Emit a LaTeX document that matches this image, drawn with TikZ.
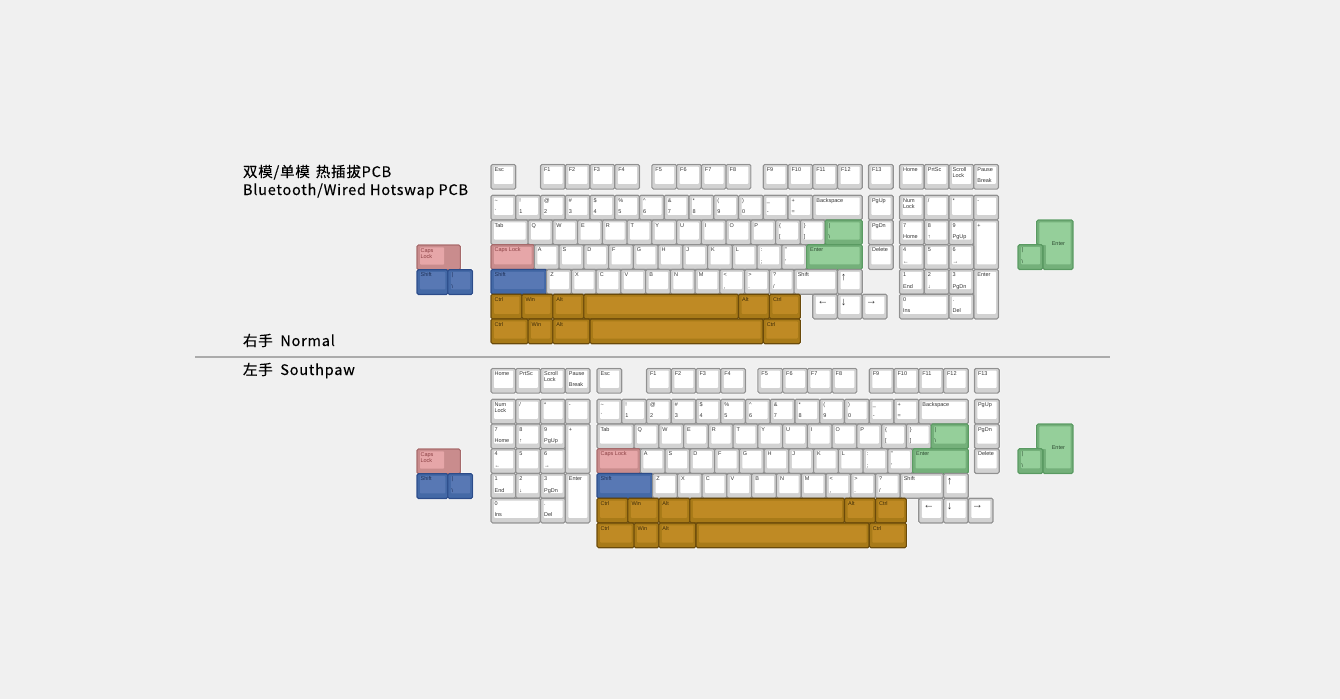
\documentclass[tikz,border=0pt]{standalone}
\usepackage{fontspec}
\newfontfamily\keyfont{Liberation Sans}
\newfontfamily\titlefont[LetterSpace=5.4,FakeBold=0.25]{Noto Sans CJK SC}
\definecolor{pagebg}{HTML}{F0F0F0}
\definecolor{haloc}{HTML}{FAFAFA}
\definecolor{outW}{HTML}{919191}\definecolor{sideW}{HTML}{D2D2D2}\definecolor{faceW}{HTML}{FFFFFF}\definecolor{textW}{HTML}{333333}
\definecolor{outG}{HTML}{6A4A0A}\definecolor{sideG}{HTML}{A87A18}\definecolor{faceG}{HTML}{BF8A24}\definecolor{textG}{HTML}{3A2A08}
\definecolor{outB}{HTML}{2C4C8A}\definecolor{sideB}{HTML}{4469A6}\definecolor{faceB}{HTML}{5878B4}\definecolor{textB}{HTML}{1D2F55}
\definecolor{outP}{HTML}{A66A6B}\definecolor{sideP}{HTML}{C98C8D}\definecolor{faceP}{HTML}{E6A6A8}\definecolor{textP}{HTML}{8A3F42}
\definecolor{outN}{HTML}{5A9A62}\definecolor{sideN}{HTML}{74B07A}\definecolor{faceN}{HTML}{95CF9A}\definecolor{textN}{HTML}{2C4A30}
\pgfdeclarelayer{backdrop}\pgfdeclarelayer{halo}\pgfsetlayers{backdrop,halo,main}
\newcounter{keyc}
\newdimen\uu \uu=24.75pt
\newdimen\kx \newdimen\ky \newdimen\kw \newdimen\kh
\newdimen\xa \newdimen\xb \newdimen\ya \newdimen\yb
\newdimen\fa \newdimen\fb \newdimen\ga \newdimen\gb
\newdimen\ta
\tikzset{
  legend/.style={anchor=base west,inner sep=0pt,outer sep=0pt,font=\keyfont\fontsize{5.5}{6}\selectfont},
  arrowlegend/.style={anchor=center,inner sep=0pt,outer sep=0pt,font=\keyfont\fontsize{11}{11}\selectfont,text=textW},
  titletext/.style={anchor=base west,inner sep=0pt,outer sep=0pt,font=\titlefont\fontsize{14.5}{16}\selectfont,text=black},
  keyrim/.style={line width=1.1pt,rounded corners=1.5pt},
  keyface/.style={rounded corners=0.8pt},
}
% #1 base x px, #2 offset in units, #3 y px
\newcommand\At[3]{\kx=#1pt \advance\kx #2\uu \ky=#3pt\relax}
\newcommand\Skip[1]{\advance\kx #1\uu\relax}
\newcommand\KeyBody[3]{% pal, w, h (in units)
  \stepcounter{keyc}%
  \kw=#2\uu \kh=#3\uu
  \xa=\kx \xb=\kx \advance\xb\kw
  \ya=\ky \yb=\ky \advance\yb\kh
  \fa=\xa \advance\fa 3pt \fb=\xb \advance\fb -2.6pt
  \ga=\ya \advance\ga 2.3pt \gb=\yb \advance\gb -5.2pt
  \begin{pgfonlayer}{halo}
  \draw[haloc,line width=2.4pt,rounded corners=2pt] (\xa,-\ya) rectangle (\xb,-\yb);
  \end{pgfonlayer}
  \draw[keyrim,draw=out#1,fill=side#1] (\xa,-\ya) rectangle (\xb,-\yb);
  \fill[keyface,fill=face#1] (\fa,-\ga) rectangle (\fb,-\gb);
}
% #1 pal #2 w #3 h #4 top line #5 second top line #6 bottom legend
\newcommand\KK[6]{%
  \KeyBody{#1}{#2}{#3}%
  \ta=\ky \advance\ta 7.2pt \xa=\kx \advance\xa 3.6pt
  \node[legend,text=text#1] (k\arabic{keyc}a) at (\xa,-\ta) {#4};
  \if\relax\detokenize{#5}\relax\else
    \advance\ta 5.8pt
    \node[legend,text=text#1] (k\arabic{keyc}b) at (\xa,-\ta) {#5};
  \fi
  \if\relax\detokenize{#6}\relax\else
    \ta=\ky \advance\ta 18.6pt
    \node[legend,text=text#1] (k\arabic{keyc}c) at (\xa,-\ta) {#6};
  \fi
  \advance\kx #2\uu\relax
}
\newcommand\K[3]{\KK{W}{#1}{1}{#2}{}{#3}}
\newcommand\Kt[3]{\KK{W}{#1}{1}{#2}{#3}{}}
% arrow key: glyph, dx, dy
\newcommand\KA[3]{%
  \KeyBody{W}{1}{1}%
  \xa=\kx \advance\xa #2pt \ta=\ky \advance\ta #3pt
  \node[arrowlegend] (k\arabic{keyc}a) at (\xa,-\ta) {#1};
  \advance\kx \uu\relax
}
% function row + main block: #1 main x, #2 y of function row, #3 y of number row
\newcommand\MainBlock[3]{%
  \At{#1}{0}{#2}\K{1}{Esc}{}\Skip{1}%
  \K{1}{F1}{}\K{1}{F2}{}\K{1}{F3}{}\K{1}{F4}{}\Skip{0.5}%
  \K{1}{F5}{}\K{1}{F6}{}\K{1}{F7}{}\K{1}{F8}{}\Skip{0.5}%
  \K{1}{F9}{}\K{1}{F10}{}\K{1}{F11}{}\K{1}{F12}{}\Skip{0.25}%
  \K{1}{F13}{}%
  \At{#1}{0}{#3}%
  \K{1}{\textasciitilde}{`}\K{1}{!}{1}\K{1}{@}{2}\K{1}{\#}{3}\K{1}{\$}{4}\K{1}{\%}{5}\K{1}{\textasciicircum}{6}\K{1}{\&}{7}\K{1}{*}{8}\K{1}{(}{9}\K{1}{)}{0}\K{1}{\_}{-}\K{1}{+}{=}\K{2}{Backspace}{}\Skip{0.25}\K{1}{PgUp}{}%
  \ky=#3pt \advance\ky 1\uu \kx=#1pt
  \K{1.5}{Tab}{}\K{1}{Q}{}\K{1}{W}{}\K{1}{E}{}\K{1}{R}{}\K{1}{T}{}\K{1}{Y}{}\K{1}{U}{}\K{1}{I}{}\K{1}{O}{}\K{1}{P}{}\K{1}{\{}{[}\K{1}{\}}{]}\KK{N}{1.5}{1}{|}{}{\textbackslash}\Skip{0.25}\K{1}{PgDn}{}%
  \ky=#3pt \advance\ky 2\uu \kx=#1pt
  \KK{P}{1.75}{1}{Caps Lock}{}{}\K{1}{A}{}\K{1}{S}{}\K{1}{D}{}\K{1}{F}{}\K{1}{G}{}\K{1}{H}{}\K{1}{J}{}\K{1}{K}{}\K{1}{L}{}\K{1}{:}{;}\K{1}{"}{'}\KK{N}{2.25}{1}{Enter}{}{}\Skip{0.25}\K{1}{Delete}{}%
  \ky=#3pt \advance\ky 3\uu \kx=#1pt
  \KK{B}{2.25}{1}{Shift}{}{}\K{1}{Z}{}\K{1}{X}{}\K{1}{C}{}\K{1}{V}{}\K{1}{B}{}\K{1}{N}{}\K{1}{M}{}\K{1}{<}{,}\K{1}{>}{.}\K{1}{?}{/}\K{1.75}{Shift}{}\KA{↑}{6}{8.5}%
  \ky=#3pt \advance\ky 4\uu \kx=#1pt
  \KK{G}{1.25}{1}{Ctrl}{}{}\KK{G}{1.25}{1}{Win}{}{}\KK{G}{1.25}{1}{Alt}{}{}\KK{G}{6.25}{1}{}{}{}\KK{G}{1.25}{1}{Alt}{}{}\KK{G}{1.25}{1}{Ctrl}{}{}\Skip{0.5}%
  \KA{←}{10}{8.5}\KA{↓}{6}{8.5}\KA{→}{9}{8.5}%
  \ky=#3pt \advance\ky 5\uu \kx=#1pt
  \KK{G}{1.5}{1}{Ctrl}{}{}\KK{G}{1}{1}{Win}{}{}\KK{G}{1.5}{1}{Alt}{}{}\KK{G}{7}{1}{}{}{}\KK{G}{1.5}{1}{Ctrl}{}{}%
}
% nav row + numpad: #1 x, #2 y function row, #3 y number row
\newcommand\NumBlock[3]{%
  \At{#1}{0}{#2}\K{1}{Home}{}\K{1}{PrtSc}{}\Kt{1}{Scroll}{Lock}\K{1}{Pause}{Break}%
  \At{#1}{0}{#3}\Kt{1}{Num}{Lock}\K{1}{/}{}\K{1}{*}{}\K{1}{-}{}%
  \ky=#3pt \advance\ky 1\uu \kx=#1pt
  \K{1}{7}{Home}\K{1}{8}{↑}\K{1}{9}{PgUp}\KK{W}{1}{2}{+}{}{}%
  \ky=#3pt \advance\ky 2\uu \kx=#1pt
  \K{1}{4}{←}\K{1}{5}{}\K{1}{6}{→}%
  \ky=#3pt \advance\ky 3\uu \kx=#1pt
  \K{1}{1}{End}\K{1}{2}{↓}\K{1}{3}{PgDn}\KK{W}{1}{2}{Enter}{}{}%
  \ky=#3pt \advance\ky 4\uu \kx=#1pt
  \K{2}{0}{Ins}\K{1}{.}{Del}%
}
% alternate keys: #1 y of the caps row
\newcommand\AltLeft[1]{%
  \At{417}{0}{#1}\stepcounter{keyc}%
  \ya=\ky \yb=\ky \advance\yb\uu \xb=\kx \advance\xb 1.75\uu
  \begin{pgfonlayer}{halo}
  \draw[haloc,line width=2.4pt,rounded corners=2pt] (\kx,-\ya) rectangle (\xb,-\yb);
  \end{pgfonlayer}
  \draw[keyrim,draw=outP,fill=sideP] (\kx,-\ya) rectangle (\xb,-\yb);
  \fa=\kx \advance\fa 3pt \fb=\kx \advance\fb 27pt
  \ga=\ya \advance\ga 2.3pt \gb=\yb \advance\gb -5.2pt
  \fill[keyface,fill=faceP] (\fa,-\ga) rectangle (\fb,-\gb);
  \ta=\ky \advance\ta 7.2pt \xa=\kx \advance\xa 3.6pt
  \node[legend,text=textP] (k\arabic{keyc}a) at (\xa,-\ta) {Caps};
  \advance\ta 5.8pt
  \node[legend,text=textP] (k\arabic{keyc}b) at (\xa,-\ta) {Lock};
  \kx=417pt \advance\ky \uu
  \KK{B}{1.25}{1}{Shift}{}{}\KK{B}{1}{1}{|}{}{\textbackslash}%
}
\newcommand\AltRight[1]{%
  \stepcounter{keyc}%
  \ya=#1pt \yb=\ya \advance\yb 49.5pt
  \ta=\ya \advance\ta 24.75pt
  \fa=\ya \advance\fa 2.3pt
  \fb=\yb \advance\fb -5.2pt
  \begin{pgfonlayer}{halo}
  \draw[haloc,line width=2.4pt,rounded corners=2pt] (1036.6pt,-\ya) -- (1073pt,-\ya) -- (1073pt,-\yb) -- (1043pt,-\yb) -- (1043pt,-\ta) -- (1036.6pt,-\ta) -- cycle;
  \end{pgfonlayer}
  \draw[keyrim,draw=outN,fill=sideN] (1036.6pt,-\ya) -- (1073pt,-\ya) -- (1073pt,-\yb) -- (1043pt,-\yb) -- (1043pt,-\ta) -- (1036.6pt,-\ta) -- cycle;
  \fill[keyface,fill=faceN] (1039.4pt,-\fa) -- (1070.6pt,-\fa) -- (1070.6pt,-\fb) -- (1046pt,-\fb) -- (1046pt,-\ta) -- (1039.4pt,-\ta) -- cycle;
  \ta=\ya \advance\ta 25.4pt
  \node[legend,text=textN] (k\arabic{keyc}a) at (1051.8pt,-\ta) {Enter};
  \ky=\ya \advance\ky 24.75pt \kx=1018pt
  \KK{N}{1}{1}{|}{}{\textbackslash}%
}
\begin{document}
\begin{tikzpicture}
\begin{pgfonlayer}{backdrop}
\fill[pagebg] (0,0) rectangle (1340pt,-699pt);
\end{pgfonlayer}
\useasboundingbox (0,0) rectangle (1340pt,-699pt);
\node[titletext] (t1) at (243pt,-177pt) {双模/单模\hspace{2pt} 热插拔PCB};
\node[titletext] (t2) at (243pt,-195pt) {Bluetooth/Wired Hotswap PCB};
\node[titletext] (t3) at (243pt,-346pt) {右手\hspace{3.5pt} Normal};
\node[titletext] (t4) at (243pt,-375pt) {左手\hspace{3.5pt} Southpaw};
\draw[color=black!33,line width=2.4pt] (195pt,-357pt) coordinate (sepa) -- (1110pt,-357pt) coordinate (sepb);
\MainBlock{491}{164.3}{195.2}
\NumBlock{899.5}{164.3}{195.2}
\AltLeft{245}
\AltRight{220}
\MainBlock{597}{368.3}{399.2}
\NumBlock{491}{368.3}{399.2}
\AltLeft{449}
\AltRight{424}
\end{tikzpicture}
\end{document}
